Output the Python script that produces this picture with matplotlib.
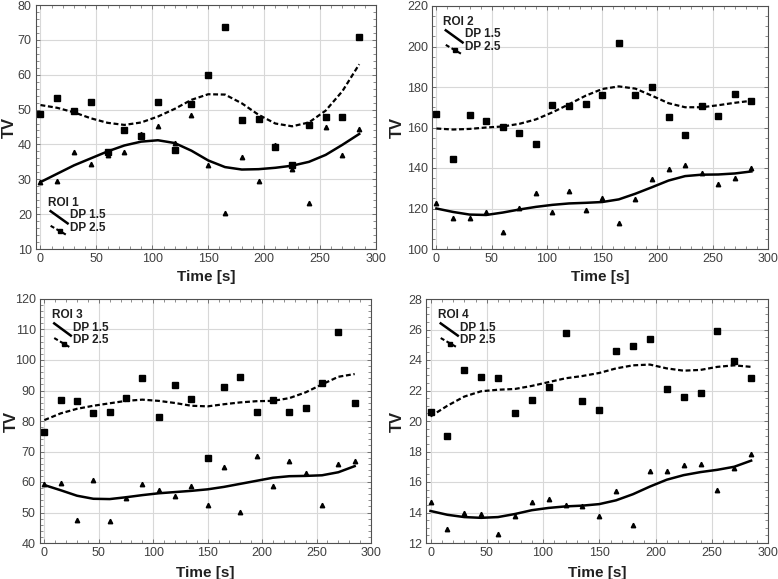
import numpy as np
import matplotlib
matplotlib.use("Agg")
import matplotlib.pyplot as plt
from matplotlib.lines import Line2D

plt.rcParams["font.family"] = ["Liberation Sans", "DejaVu Sans"]

# sampling times [s]
t = [0, 15, 30, 45, 60, 75, 90, 105, 120, 135, 150, 165, 180, 195, 210, 225, 240, 255, 270, 285]

# ROI 1
roi1_dp25 = [48.7, 53.3, 49.7, 52.1, 37.8, 44.0, 42.4, 52.3, 38.4, 51.5, 60.0, 73.7, 47.1, 47.3, 39.2, 34.2, 45.6, 47.8, 48.0, 70.9]
roi1_dp15 = [29.1, 29.6, 37.9, 34.4, 37.0, 37.9, 43.0, 45.2, 40.5, 48.4, 34.1, 20.4, 36.3, 29.6, 39.8, 33.0, 23.3, 45.0, 37.0, 44.4]
roi1_fit25 = [51.3, 50.5, 49.2, 47.5, 46.2, 45.6, 46.3, 48.0, 50.2, 52.8, 54.4, 54.3, 51.8, 48.5, 46.0, 45.2, 46.3, 49.7, 55.3, 63.0]
roi1_fit15 = [29.2, 31.6, 34.0, 36.0, 38.0, 39.7, 40.8, 41.2, 40.4, 38.2, 35.4, 33.5, 32.8, 32.9, 33.3, 33.9, 35.0, 37.0, 39.9, 43.0]

# ROI 2
roi2_dp25 = [166.5, 144.3, 166.0, 163.0, 160.3, 157.3, 151.8, 171.2, 170.7, 171.5, 176.2, 201.5, 176.2, 180.0, 165.2, 156.5, 170.7, 165.8, 176.6, 173.0]
roi2_dp15 = [122.5, 115.5, 115.3, 118.3, 108.5, 120.3, 127.5, 118.5, 128.7, 119.5, 125.3, 113.0, 124.7, 134.7, 139.7, 141.5, 137.3, 132.0, 135.2, 140.0]
roi2_fit25 = [159.5, 159.0, 159.3, 160.0, 160.5, 161.8, 164.0, 167.5, 171.5, 175.7, 179.0, 180.3, 179.2, 175.7, 172.0, 170.0, 170.0, 171.0, 172.2, 173.2]
roi2_fit15 = [120.0, 118.3, 117.0, 116.8, 118.0, 119.5, 120.8, 121.8, 122.5, 122.8, 123.2, 124.5, 127.3, 130.5, 133.8, 136.0, 136.7, 136.8, 137.3, 138.3]

# ROI 3
roi3_dp25 = [76.4, 86.8, 86.5, 82.5, 83.0, 87.7, 94.1, 81.2, 91.7, 87.3, 68.0, 91.0, 94.3, 82.8, 86.8, 83.0, 84.3, 92.5, 109.3, 85.9]
roi3_dp15 = [59.5, 59.7, 47.5, 60.5, 47.2, 54.6, 59.2, 57.5, 55.3, 58.6, 52.6, 64.8, 50.3, 68.4, 58.8, 67.0, 63.0, 52.4, 65.8, 66.8]
roi3_fit25 = [80.3, 82.5, 84.0, 85.0, 85.8, 86.6, 87.0, 86.6, 85.9, 85.0, 84.8, 85.5, 86.1, 86.5, 86.6, 87.5, 89.4, 92.0, 94.5, 95.4]
roi3_fit15 = [59.0, 57.3, 55.5, 54.5, 54.4, 55.0, 55.7, 56.3, 56.7, 57.1, 57.6, 58.4, 59.4, 60.4, 61.4, 61.9, 62.0, 62.2, 63.2, 65.2]

# ROI 4
roi4_dp25 = [20.6, 19.0, 23.35, 22.9, 22.8, 20.5, 21.4, 22.2, 25.8, 21.3, 20.7, 24.6, 24.95, 25.4, 22.1, 21.55, 21.85, 25.9, 23.95, 22.8]
roi4_dp15 = [14.7, 12.9, 14.0, 13.9, 12.6, 13.8, 14.7, 14.9, 14.5, 14.45, 13.75, 15.4, 13.15, 16.75, 16.7, 17.1, 17.2, 15.45, 16.95, 17.85]
roi4_fit25 = [20.3, 21.0, 21.6, 21.95, 22.05, 22.1, 22.3, 22.55, 22.8, 22.95, 23.15, 23.45, 23.65, 23.7, 23.45, 23.3, 23.35, 23.55, 23.65, 23.55]
roi4_fit15 = [14.1, 13.85, 13.7, 13.65, 13.7, 13.9, 14.15, 14.3, 14.4, 14.45, 14.55, 14.8, 15.2, 15.7, 16.15, 16.45, 16.65, 16.8, 17.0, 17.4]

panels = [
    ("ROI 1", roi1_dp15, roi1_dp25, roi1_fit15, roi1_fit25, (10, 80), 10),
    ("ROI 2", roi2_dp15, roi2_dp25, roi2_fit15, roi2_fit25, (100, 220), 20),
    ("ROI 3", roi3_dp15, roi3_dp25, roi3_fit15, roi3_fit25, (40, 120), 10),
    ("ROI 4", roi4_dp15, roi4_dp25, roi4_fit15, roi4_fit25, (12, 28), 2),
]

# axes rectangles in pixels: left, right, top, bottom
W, H = 778, 579
rects = [(36, 376, 5, 249), (432, 768, 6, 249), (40, 371, 299, 543), (426, 768, 299, 543)]
legend_pos = [(0.035, 0.19), (0.033, 0.935), (0.035, 0.935), (0.035, 0.935)]
ylabel_x = [-0.056, -0.080, -0.063, -0.061]
xlabel_y = [-0.086, -0.086, -0.094, -0.094]

fig = plt.figure(figsize=(W / 100, H / 100), dpi=100)
grey = "#404040"
dark = "#202020"

def draw_legend(ax, x0, y0, name):
    tr = ax.transAxes
    ax.text(x0, y0, name, transform=tr, fontsize=8.5, fontweight="bold", color=dark,
            va="center", ha="left")
    ax.add_line(Line2D([x0 + 0.008, x0 + 0.058], [y0 - 0.035, y0 - 0.085], transform=tr,
                       color="black", lw=1.8))
    ax.text(x0 + 0.065, y0 - 0.052, "DP 1.5", transform=tr, fontsize=8.5, fontweight="bold",
            color=dark, va="center", ha="left")
    ax.add_line(Line2D([x0 + 0.008, x0 + 0.058], [y0 - 0.095, y0 - 0.135], transform=tr,
                       color="black", lw=1.5, ls=(0, (2, 1.2))))
    ax.add_line(Line2D([x0 + 0.036], [y0 - 0.118], transform=tr, color="black",
                       marker="s", markersize=3.2, ls="none"))
    ax.text(x0 + 0.065, y0 - 0.105, "DP 2.5", transform=tr, fontsize=8.5, fontweight="bold",
            color=dark, va="center", ha="left")

for i, (name, dp15, dp25, fit15, fit25, ylim, ystep) in enumerate(panels):
    l, r, tp, b = rects[i]
    ax = fig.add_axes([l / W, (H - b) / H, (r - l) / W, (b - tp) / H])
    ax.grid(True, color="#d8d8d8", lw=0.8)
    ax.set_axisbelow(True)
    ax.plot(t, fit15, color="black", lw=1.8)
    ax.plot(t, fit25, color="black", lw=1.6, ls=(0, (2.2, 1.2)))
    ax.plot(t, dp25, ls="none", marker="s", color="black", markersize=4.5)
    ax.plot(t, dp15, ls="none", marker="^", color="black", markersize=3.2)
    ax.set_xlim(-4, 300)
    ax.set_ylim(*ylim)
    ax.set_xticks(np.arange(0, 301, 50))
    ax.set_yticks(np.arange(ylim[0], ylim[1] + 0.1, ystep))
    ax.tick_params(direction="in", top=True, right=True, labelsize=9, length=3, width=0.6,
                   colors="#606060", pad=3)
    ax.tick_params(labelcolor=grey)
    ax.minorticks_on()
    ax.tick_params(which="minor", direction="in", top=True, right=True, length=2,
                   width=0.5, colors="#606060")
    for s in ax.spines.values():
        s.set_color("#505050")
        s.set_linewidth(0.8)
    ax.set_xlabel("Time [s]", fontsize=11, fontweight="bold", color=dark)
    ax.set_ylabel("TV", fontsize=12, fontweight="bold", color=dark)
    ax.xaxis.set_label_coords(0.5, xlabel_y[i])
    ax.yaxis.set_label_coords(ylabel_x[i], 0.5)
    draw_legend(ax, legend_pos[i][0], legend_pos[i][1], name)

fig.savefig("out.png", dpi=100)
